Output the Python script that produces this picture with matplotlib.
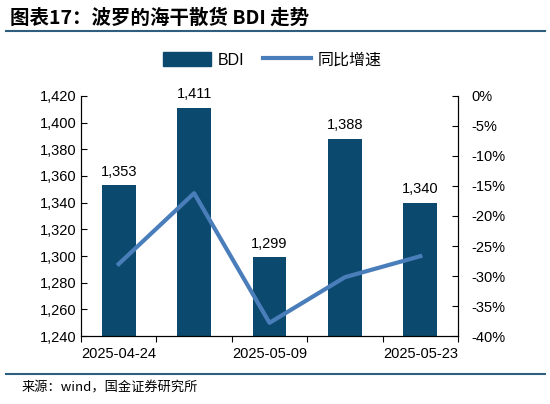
import matplotlib
matplotlib.use("Agg")
import matplotlib.pyplot as plt
from matplotlib.ticker import FuncFormatter, FixedLocator
from matplotlib.lines import Line2D
from matplotlib.patches import Patch

plt.rcParams['font.family'] = ['Liberation Sans', 'Noto Sans CJK SC', 'DejaVu Sans']

dates = ["2025-04-24", "2025-05-01", "2025-05-09", "2025-05-16", "2025-05-23"]
bdi = [1353, 1411, 1299, 1388, 1340]
yoy = [-28.0, -16.2, -37.8, -30.2, -26.7]
shown_labels = ["2025-04-24", "2025-05-09", "2025-05-23"]

bar_color = "#0B4A6E"
line_color = "#4A7EBB"

fig = plt.figure(figsize=(5.5, 4.04), dpi=100)
ax = fig.add_axes([0.1473, 0.1683, 0.6854, 0.5941])
x = list(range(len(dates)))
ax.bar(x, bdi, width=0.45, color=bar_color, zorder=2)
ax.set_ylim(1240, 1420)
ax.set_xlim(-0.5, len(dates) - 0.5)
ax.set_yticks(range(1240, 1421, 20))
ax.yaxis.set_major_formatter(FuncFormatter(lambda v, p: f"{int(v):,}"))
for xi, v in zip(x, bdi):
    ax.text(xi, v + 5, f"{v:,}", ha="center", va="bottom", fontsize=10.5)

ax.xaxis.set_major_locator(FixedLocator([i - 0.5 for i in range(len(dates) + 1)]))
ax.set_xticklabels([])
ax.set_xticks([dates.index(d) for d in shown_labels], minor=True)
ax.set_xticklabels(shown_labels, minor=True)
ax.tick_params(axis="x", which="minor", length=0, labelsize=10.5, pad=8)
ax.tick_params(axis="x", which="major", direction="out", length=4)
ax.tick_params(axis="y", direction="in", length=4, labelsize=10.5)
ax.spines["top"].set_visible(False)

ax2 = ax.twinx()
ax2.plot(x, yoy, color=line_color, linewidth=3, zorder=3)
ax2.set_ylim(-40, 0)
ax2.set_yticks(range(-40, 1, 5))
ax2.yaxis.set_major_formatter(FuncFormatter(lambda v, p: f"{int(v)}%"))
ax2.tick_params(axis="y", direction="in", length=4, labelsize=10.5, pad=10)
ax2.spines["top"].set_visible(False)

fig.text(0.018, 0.955, "图表17：波罗的海干散货 BDI 走势", fontsize=14, fontweight="bold",
         fontstyle="italic", family=['Noto Sans CJK SC', 'DejaVu Sans'], va="center")
fig.add_artist(Line2D([0.01, 0.99], [0.923, 0.923], color="#2E5F7F", linewidth=1.5))
fig.add_artist(Line2D([0.01, 0.99], [0.074, 0.074], color="#2E5F7F", linewidth=1.5))
fig.text(0.04, 0.04, "来源：wind，国金证券研究所", fontsize=9.5,
         family=['Noto Sans CJK SC', 'DejaVu Sans'], va="center")

handles = [Patch(facecolor=bar_color, edgecolor=bar_color),
           Line2D([], [], color=line_color, linewidth=3)]
fig.legend(handles, ["BDI", "同比增速"], loc="center", bbox_to_anchor=(0.495, 0.852),
           ncol=2, frameon=False, fontsize=11.5, handlelength=3.0, handleheight=1.0,
           columnspacing=1.2, handletextpad=0.4)

fig.savefig("out.png", dpi=100)
